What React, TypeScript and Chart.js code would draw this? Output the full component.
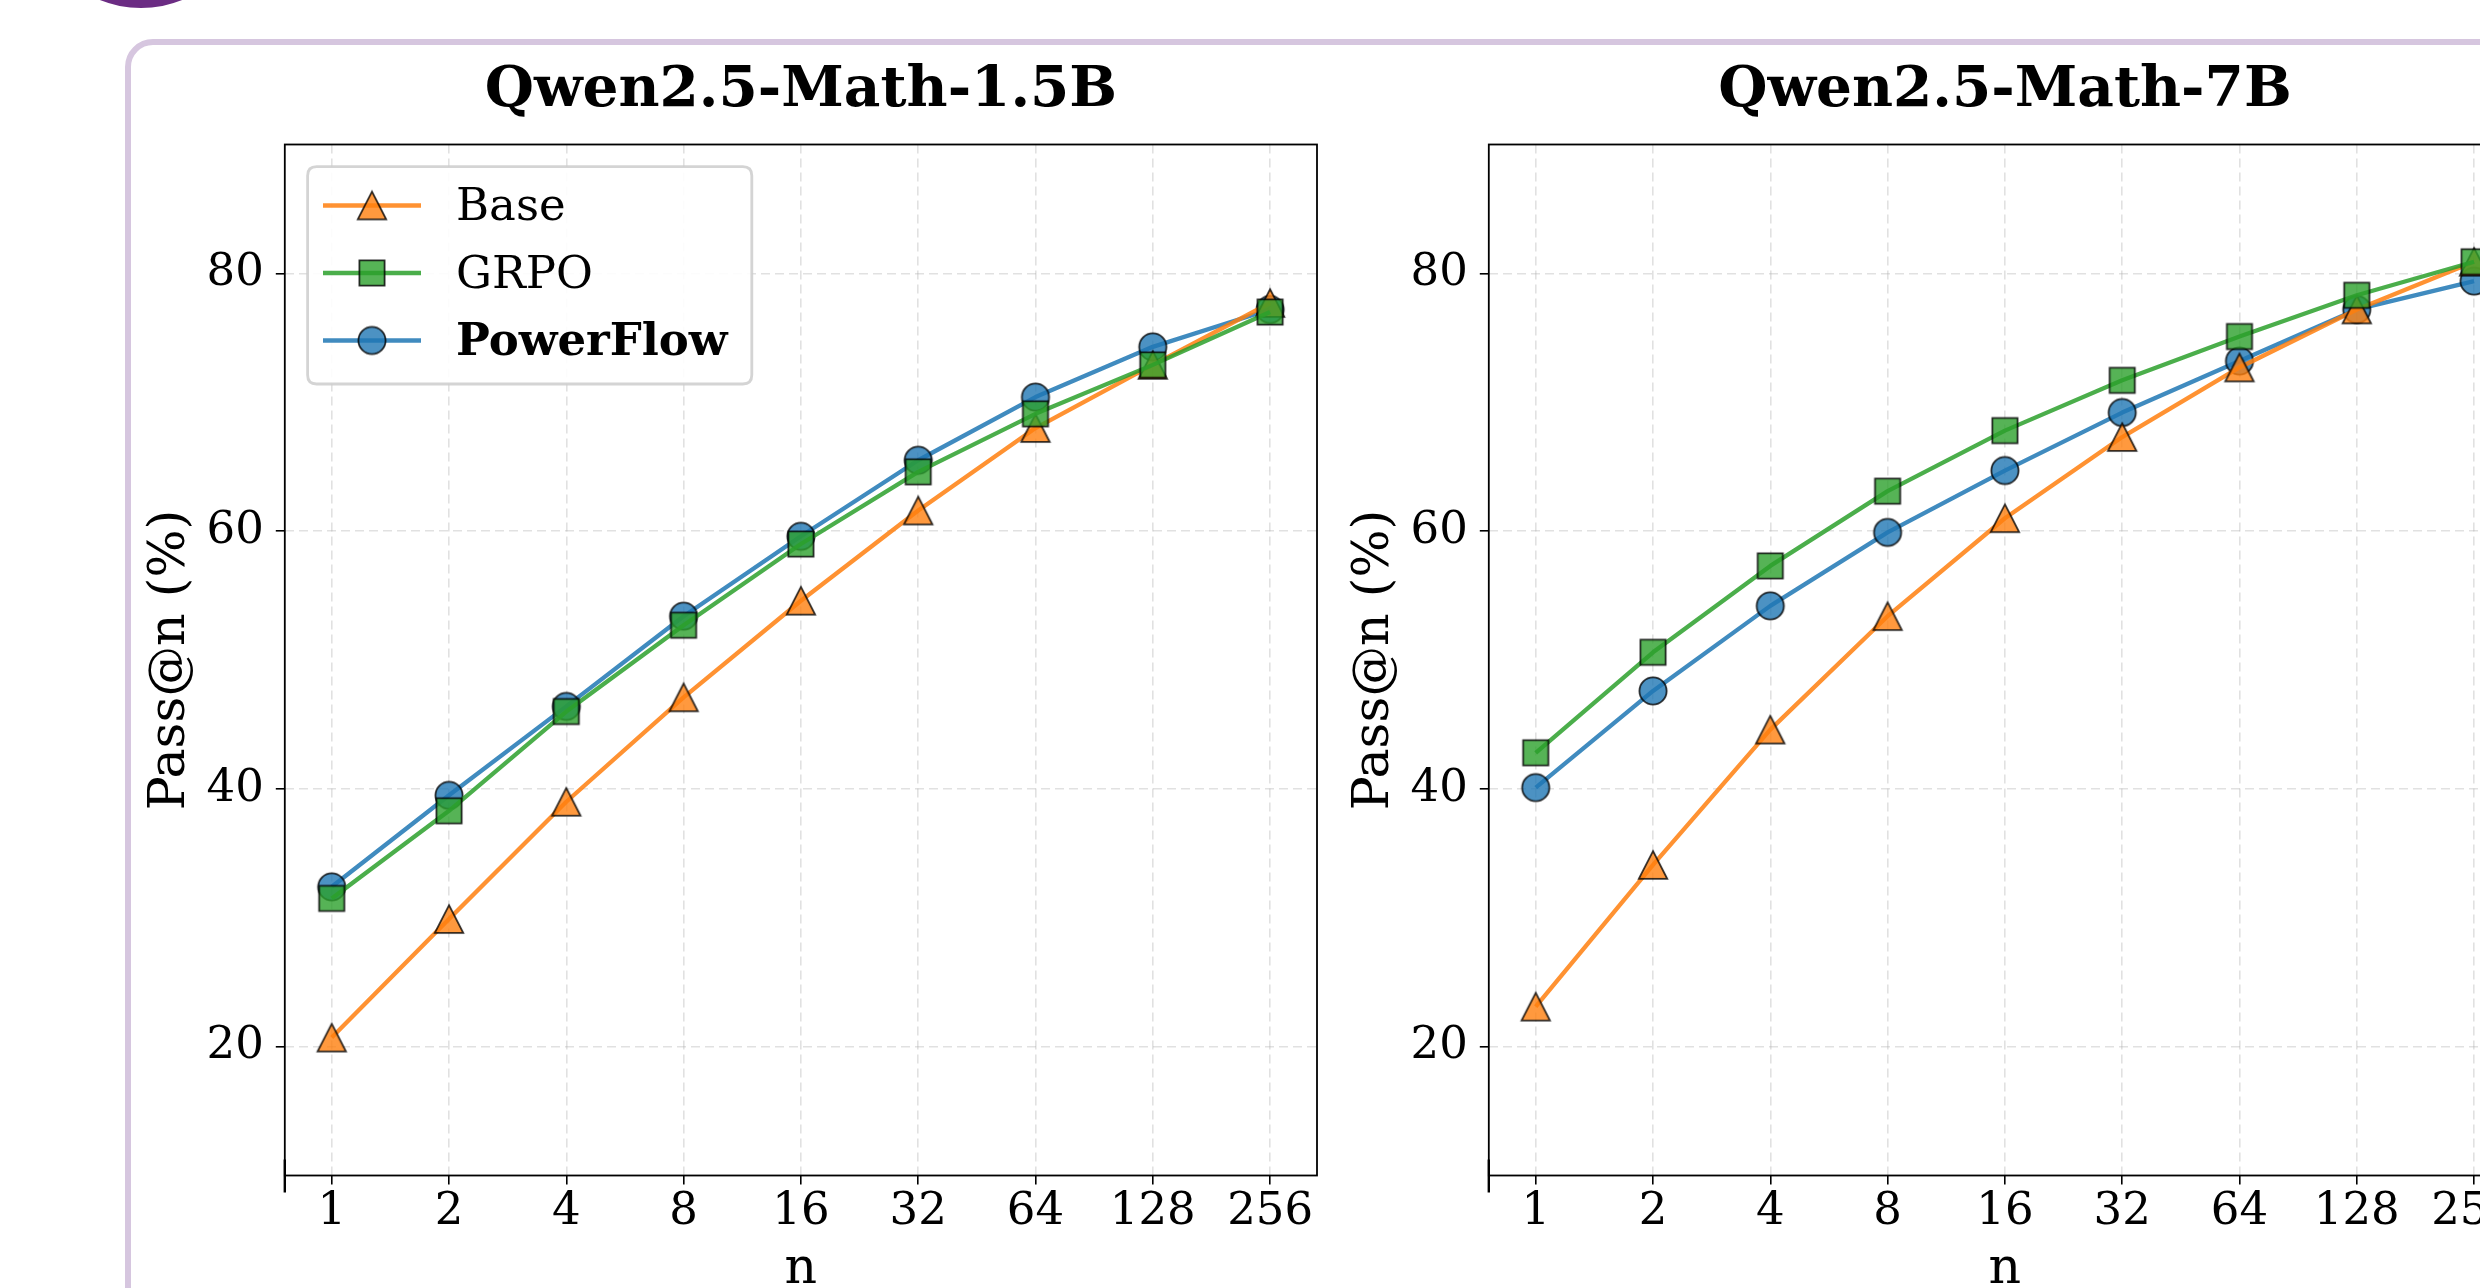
import React, { useEffect, useRef } from "react";
import { Chart, registerables } from "chart.js";

Chart.register(...registerables);

// ---------------- data ----------------
const N_LABELS = ["1", "2", "4", "8", "16", "32", "64", "128", "256"];
const Y_TICKS = [20, 40, 60, 80];
const SERIES_NAMES = ["Base", "GRPO", "PowerFlow"];
const TITLES = ["Qwen2.5-Math-1.5B", "Qwen2.5-Math-7B"];
const X_TITLE = "n";
const Y_TITLE = "Pass@n (%)";

const BASE_15B = [20.7, 29.9, 39.0, 47.1, 54.6, 61.6, 68.0, 72.9, 77.7];
const GRPO_15B = [31.5, 38.3, 46.0, 52.7, 59.0, 64.6, 69.1, 72.9, 77.0];
const POWERFLOW_15B = [32.4, 39.5, 46.4, 53.4, 59.6, 65.5, 70.4, 74.3, 77.2];

const BASE_7B = [23.1, 34.1, 44.6, 53.4, 61.0, 67.3, 72.7, 77.2, 80.9];
const GRPO_7B = [42.8, 50.6, 57.3, 63.1, 67.8, 71.7, 75.1, 78.3, 80.9];
const POWERFLOW_7B = [40.1, 47.6, 54.2, 59.9, 64.7, 69.2, 73.2, 77.2, 79.4];

// ---------------- styles ----------------
const FONT = "'DejaVu Serif', 'Liberation Serif', serif";
const RGB = {
  Base: [255, 127, 14],
  GRPO: [44, 160, 44],
  PowerFlow: [31, 119, 180],
} as Record<string, number[]>;
const SHAPES = { Base: "triangle", GRPO: "square", PowerFlow: "circle" } as Record<string, string>;
const ORDERS = { Base: 2, GRPO: 1, PowerFlow: 3 } as Record<string, number>;
const LINE_W = 4.3;

function rgba(c: number[], a: number) {
  return `rgba(${c[0]},${c[1]},${c[2]},${a})`;
}

function makeMarker(shape: string, c: number[]) {
  const cv = document.createElement("canvas");
  cv.width = 40;
  cv.height = 40;
  const ctx = cv.getContext("2d")!;
  ctx.translate(20, 20);
  ctx.beginPath();
  if (shape === "triangle") {
    ctx.moveTo(0, -13.8);
    ctx.lineTo(14.2, 13.8);
    ctx.lineTo(-14.2, 13.8);
    ctx.closePath();
  } else if (shape === "square") {
    ctx.rect(-12.6, -12.6, 25.2, 25.2);
  } else {
    ctx.arc(0, 0, 13.6, 0, Math.PI * 2);
  }
  ctx.fillStyle = rgba(c, 0.8);
  ctx.fill();
  ctx.lineWidth = 1.8;
  ctx.strokeStyle = "rgba(0,0,0,0.8)";
  ctx.stroke();
  return cv;
}

const mplPlugin = {
  id: "mplFrame",
  afterDatasetsDraw(chart: any) {
    const { ctx, chartArea: a } = chart;
    ctx.save();
    ctx.strokeStyle = "#000";
    ctx.lineWidth = 1.8;
    ctx.strokeRect(a.left, a.top, a.right - a.left, a.bottom - a.top);
    ctx.lineWidth = 2.4;
    ctx.beginPath();
    ctx.moveTo(a.left, a.bottom - 16);
    ctx.lineTo(a.left, a.bottom + 17);
    ctx.stroke();
    ctx.restore();
  },
  afterDraw(chart: any, _args: any, opts: any) {
    const { ctx, chartArea: a } = chart;
    ctx.save();
    // title
    ctx.fillStyle = "#000";
    ctx.font = `bold 56.5px ${FONT}`;
    ctx.textAlign = "center";
    ctx.textBaseline = "alphabetic";
    ctx.fillText(opts.title, (a.left + a.right) / 2, 105.5);
    // legend
    if (opts.legend) {
      const bx = 307.6, by = 166.7, bw = 444.2, bh = 217.3, r = 9;
      ctx.beginPath();
      ctx.moveTo(bx + r, by);
      ctx.lineTo(bx + bw - r, by);
      ctx.quadraticCurveTo(bx + bw, by, bx + bw, by + r);
      ctx.lineTo(bx + bw, by + bh - r);
      ctx.quadraticCurveTo(bx + bw, by + bh, bx + bw - r, by + bh);
      ctx.lineTo(bx + r, by + bh);
      ctx.quadraticCurveTo(bx, by + bh, bx, by + bh - r);
      ctx.lineTo(bx, by + r);
      ctx.quadraticCurveTo(bx, by, bx + r, by);
      ctx.closePath();
      ctx.fillStyle = "rgba(255,255,255,0.9)";
      ctx.fill();
      ctx.lineWidth = 2.8;
      ctx.strokeStyle = "rgba(204,204,204,0.85)";
      ctx.stroke();
      const rows = [205.5, 273, 340.5];
      SERIES_NAMES.forEach((name, i) => {
        const y = rows[i];
        ctx.beginPath();
        ctx.moveTo(323, y);
        ctx.lineTo(421, y);
        ctx.lineWidth = LINE_W;
        ctx.strokeStyle = rgba(RGB[name], 0.85);
        ctx.stroke();
        ctx.drawImage(opts.markers[name], 372 - 20, y - 20);
        ctx.fillStyle = "#000";
        ctx.font = `${name === "PowerFlow" ? "bold " : ""}45px ${FONT}`;
        ctx.textAlign = "left";
        ctx.textBaseline = "middle";
        ctx.fillText(name, 456, y + 3);
      });
    }
    ctx.restore();
  },
};

function makeConfig(
  title: string,
  base: number[],
  grpo: number[],
  pf: number[],
  markers: Record<string, HTMLCanvasElement>,
  yAxisWidth: number,
  yTitlePad: number,
  rightPad: number,
  legend: boolean
): any {
  const seriesData: Record<string, number[]> = { Base: base, GRPO: grpo, PowerFlow: pf };
  const gridCommon = {
    color: "rgba(176,176,176,0.38)",
    lineWidth: 1.6,
    drawTicks: true,
    tickLength: 9,
    tickColor: "#000",
    tickWidth: 1.6,
    tickBorderDash: [],
  };
  return {
    type: "line",
    data: {
      datasets: SERIES_NAMES.map((name) => ({
        label: name,
        data: seriesData[name].map((v, i) => ({ x: i, y: v })),
        borderColor: rgba(RGB[name], 0.85),
        backgroundColor: rgba(RGB[name], 0.8),
        borderWidth: LINE_W,
        borderJoinStyle: "round",
        pointStyle: markers[name],
        pointRadius: 14,
        pointHoverRadius: 14,
        tension: 0,
        fill: false,
        order: ORDERS[name],
      })),
    },
    options: {
      responsive: false,
      animation: false,
      events: [],
      layout: { autoPadding: false, padding: { top: 144.5, right: rightPad, left: 0, bottom: 0 } },
      plugins: {
        legend: { display: false },
        tooltip: { enabled: false },
        title: { display: false },
        mplFrame: { title, legend, markers },
      },
      scales: {
        x: {
          type: "linear",
          min: -0.4,
          max: 8.4,
          bounds: "data",
          afterBuildTicks: (s: any) => {
            s.ticks = N_LABELS.map((_, i) => ({ value: i }));
          },
          afterFit: (s: any) => {
            s.height = 144.5;
          },
          ticks: {
            autoSkip: false,
            maxRotation: 0,
            minRotation: 0,
            padding: 1,
            color: "#000",
            font: { family: FONT, size: 45, lineHeight: 1.2 },
            callback: (v: any) => N_LABELS[Math.round(Number(v))],
          },
          grid: gridCommon,
          border: { display: false, dash: [9, 5] },
          title: {
            display: true,
            text: X_TITLE,
            color: "#000",
            font: { family: FONT, size: 50.6, lineHeight: 1.2 },
            padding: { top: 0, bottom: 20 },
          },
        },
        y: {
          type: "linear",
          min: 10,
          max: 90,
          bounds: "data",
          afterBuildTicks: (s: any) => {
            s.ticks = Y_TICKS.map((v) => ({ value: v }));
          },
          afterFit: (s: any) => {
            s.width = yAxisWidth;
          },
          ticks: {
            padding: 12,
            color: "#000",
            font: { family: FONT, size: 45, lineHeight: 1.2 },
            callback: (v: any) => String(v),
          },
          grid: gridCommon,
          border: { display: false, dash: [9, 5] },
          title: {
            display: true,
            text: Y_TITLE,
            color: "#000",
            font: { family: FONT, size: 50.6, lineHeight: 1.2 },
            padding: { top: yTitlePad, bottom: 0 },
          },
        },
      },
    },
    plugins: [mplPlugin],
  };
}

export default function App() {
  const ref1 = useRef<HTMLCanvasElement>(null);
  const ref2 = useRef<HTMLCanvasElement>(null);

  useEffect(() => {
    const markers: Record<string, HTMLCanvasElement> = {};
    SERIES_NAMES.forEach((n) => {
      markers[n] = makeMarker(SHAPES[n], RGB[n]);
    });
    const c1 = new Chart(
      ref1.current!,
      makeConfig(TITLES[0], BASE_15B, GRPO_15B, POWERFLOW_15B, markers, 284.8, 140.6, 13, true)
    );
    const c2 = new Chart(
      ref2.current!,
      makeConfig(TITLES[1], BASE_7B, GRPO_7B, POWERFLOW_7B, markers, 158.8, 14.1, 59, false)
    );
    return () => {
      c1.destroy();
      c2.destroy();
    };
  }, []);

  return (
    <div
      style={{
        position: "fixed",
        left: 0,
        top: 0,
        width: 2480,
        height: 1288,
        overflow: "hidden",
        background: "#ffffff",
      }}
    >
      <div
        style={{
          position: "absolute",
          left: 125,
          top: 39,
          width: 2700,
          height: 1600,
          border: "6px solid #d6c6df",
          borderRadius: 28,
          boxSizing: "border-box",
        }}
      />
      <div
        style={{
          position: "absolute",
          left: 31,
          top: -212,
          width: 220,
          height: 220,
          borderRadius: "50%",
          background: "#6b2c83",
        }}
      />
      <canvas
        ref={ref1}
        width={1330}
        height={1320}
        style={{ position: "absolute", left: 0, top: 0, display: "block" }}
      />
      <canvas
        ref={ref2}
        width={1250}
        height={1320}
        style={{ position: "absolute", left: 1330, top: 0, display: "block" }}
      />
    </div>
  );
}
